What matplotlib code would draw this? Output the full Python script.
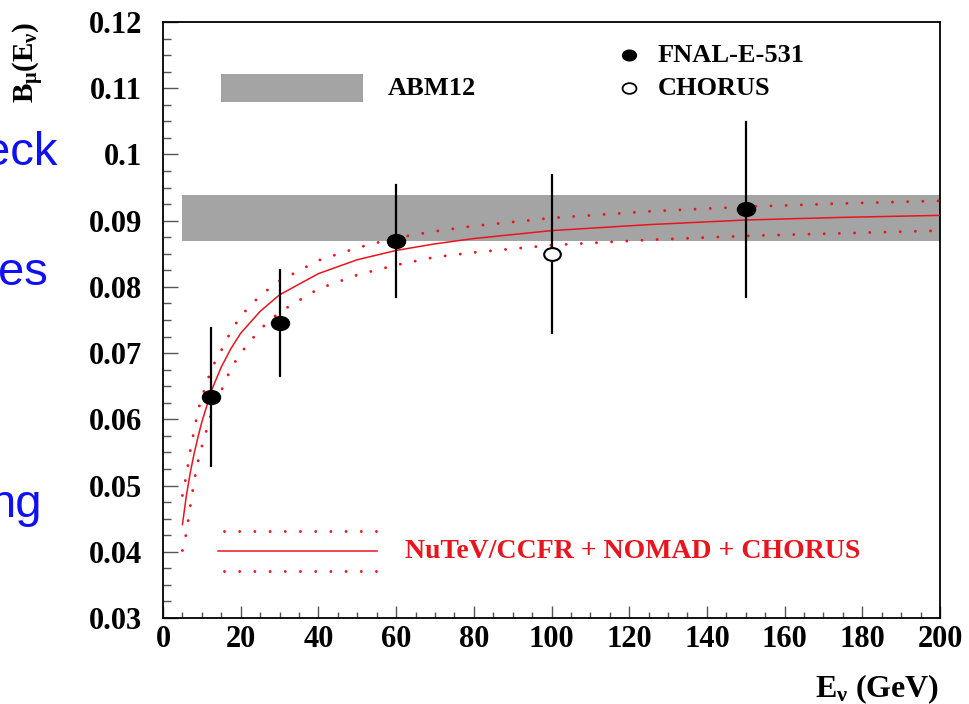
import matplotlib
matplotlib.use("Agg")
import matplotlib.pyplot as plt
from matplotlib.path import Path
from matplotlib.transforms import Affine2D
from matplotlib.ticker import MultipleLocator, FixedLocator

# --- data ---
# fitted curve (NuTeV/CCFR + NOMAD + CHORUS): central value and +/- band
curve_E = [5, 6, 7, 8, 9, 10, 12.5, 15, 17.5, 20, 25, 30, 40, 50, 60, 70, 80, 100, 125, 150, 175, 200]
curve_B = [0.0441, 0.0484, 0.0519, 0.0548, 0.0573, 0.0596, 0.0644, 0.0679, 0.0707, 0.0730, 0.0763,
           0.0788, 0.0820, 0.0841, 0.0855, 0.0865, 0.0873, 0.0885, 0.0894, 0.0901, 0.0905, 0.0908]
curve_hi = [0.0485, 0.0515, 0.0552, 0.0583, 0.0613, 0.0633, 0.0677, 0.0704, 0.0733, 0.0756, 0.0787,
            0.0809, 0.0840, 0.0859, 0.0874, 0.0884, 0.0892, 0.0904, 0.0914, 0.0921, 0.0926, 0.0930]
curve_lo = [0.0402, 0.0428, 0.0468, 0.0506, 0.0536, 0.0559, 0.0610, 0.0643, 0.0677, 0.0700, 0.0736,
            0.0762, 0.0797, 0.0818, 0.0833, 0.0845, 0.0852, 0.0863, 0.0871, 0.0877, 0.0881, 0.0885]

# FNAL-E-531 points
fnal_E = [12.4, 30, 60, 150]
fnal_B = [0.0634, 0.0746, 0.0869, 0.0918]
fnal_lo = [0.0529, 0.0666, 0.0784, 0.0784]
fnal_hi = [0.0738, 0.0826, 0.0954, 0.1049]

# CHORUS point
chorus_E = [100]
chorus_B = [0.0850]
chorus_lo = [0.0731]
chorus_hi = [0.0969]

# ABM12 band
abm_E = [5, 200]
abm_lo = 0.0870
abm_hi = 0.0939

yticks = [0.03, 0.04, 0.05, 0.06, 0.07, 0.08, 0.09, 0.10, 0.11, 0.12]
xticks = [0, 20, 40, 60, 80, 100, 120, 140, 160, 180, 200]

RED = "#e8141e"
GRAY = "#a4a4a4"
SERIF = "Liberation Serif"

plt.rcParams["mathtext.fontset"] = "custom"
plt.rcParams["mathtext.rm"] = "Liberation Serif:bold"
plt.rcParams["mathtext.it"] = "Liberation Serif:bold"
plt.rcParams["mathtext.bf"] = "Liberation Serif:bold"

# slightly wide ellipse marker (the original is stretched horizontally)
ell = Path.unit_circle().transformed(Affine2D().scale(1.3, 1.0))

fig = plt.figure(figsize=(9.7, 7.04), dpi=100)
ax = fig.add_axes([163 / 970, 86 / 704, 777 / 970, 596 / 704])

ax.fill_between(abm_E, abm_lo, abm_hi, color=GRAY, lw=0, zorder=1)

dots = dict(color=RED, lw=2.1, linestyle=(0, (0.01, 5.2)), dash_capstyle="round", zorder=3)
ax.plot(curve_E, curve_B, color=RED, lw=1.1, zorder=3)
ax.plot(curve_E, curve_hi, **dots)
ax.plot(curve_E, curve_lo, **dots)

for E, lo, hi in zip(fnal_E + chorus_E, fnal_lo + chorus_lo, fnal_hi + chorus_hi):
    ax.plot([E, E], [lo, hi], color="black", lw=1.6, zorder=4)
ax.plot(fnal_E, fnal_B, ls="none", marker=ell, ms=13, mfc="black", mec="black", zorder=5)
ax.plot(chorus_E, chorus_B, ls="none", marker=ell, ms=12, mfc="white", mec="black", mew=1.5, zorder=5)

# legend, drawn by hand like ROOT does
ax.fill_between([14.9, 51.6], 0.10787, 0.11215, color=GRAY, lw=0, zorder=1)
ax.text(57.9, 0.1099, "ABM12", fontsize=19, family=SERIF, weight="bold", va="center")
ax.plot([120], [0.1150], ls="none", marker=ell, ms=10, mfc="black", mec="black")
ax.plot([120], [0.1100], ls="none", marker=ell, ms=10, mfc="white", mec="black", mew=1.3)
ax.text(127.4, 0.1150, "FNAL-E-531", fontsize=19, family=SERIF, weight="bold", va="center")
ax.text(127.4, 0.1100, "CHORUS", fontsize=19, family=SERIF, weight="bold", va="center")

ax.plot([15.7, 55.3], [0.0431, 0.0431], **dots)
ax.plot([14.2, 55.0], [0.0401, 0.0401], color=RED, lw=1.1)
ax.plot([15.7, 55.3], [0.0371, 0.0371], **dots)
ax.text(62.3, 0.0401, "NuTeV/CCFR + NOMAD + CHORUS", fontsize=20, family=SERIF,
        weight="bold", color=RED, va="center")

ax.set_xlim(0, 200)
ax.set_ylim(0.03, 0.12)
ax.xaxis.set_major_locator(FixedLocator(xticks))
ax.yaxis.set_major_locator(FixedLocator(yticks))
ax.xaxis.set_minor_locator(MultipleLocator(5))
ax.yaxis.set_minor_locator(MultipleLocator(0.0025))
ax.set_xticklabels([str(v) for v in xticks])
ax.set_yticklabels([f"{v:.2f}".rstrip("0") for v in yticks])
for lab in ax.get_xticklabels() + ax.get_yticklabels():
    lab.set_family(SERIF)
    lab.set_weight("bold")
    lab.set_fontsize(22)
ax.tick_params(axis="both", which="both", direction="in", colors="#555555", labelcolor="black",
               top=False, right=False)
ax.tick_params(axis="y", which="major", length=11, width=1, pad=15)
ax.tick_params(axis="y", which="minor", length=5.5, width=1)
ax.tick_params(axis="x", which="major", length=9, width=1, pad=5)
ax.tick_params(axis="x", which="minor", length=4.5, width=1)
for sp in ax.spines.values():
    sp.set_linewidth(1.3)
    sp.set_color("black")

fig.text(0.029, 0.969, r"$B_{\mu}(E_{\nu})$", rotation=90, ha="center", va="top", fontsize=21)
fig.text(0.968, 0.010, r"$E_{\nu}$ (GeV)", ha="right", va="baseline", fontsize=23,
         family=SERIF, weight="bold")

# cropped slide text at the left edge
blue = "#1010f5"
fig.text(57 / 970, (704 - 165) / 704, "eck", color=blue, fontsize=34, family="Liberation Sans",
         ha="right", va="baseline")
fig.text(48 / 970, (704 - 285) / 704, "es", color=blue, fontsize=34, family="Liberation Sans",
         ha="right", va="baseline")
fig.text(42 / 970, (704 - 517) / 704, "ng", color=blue, fontsize=34, family="Liberation Sans",
         ha="right", va="baseline")

fig.savefig("out.png", dpi=100, facecolor="white")
